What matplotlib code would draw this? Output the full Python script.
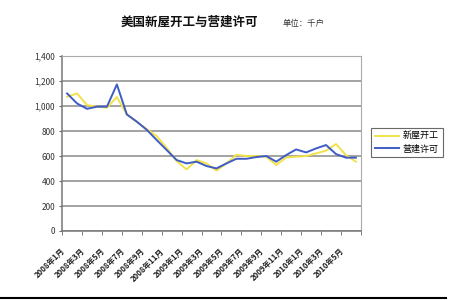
import matplotlib
matplotlib.use('Agg')
import matplotlib.pyplot as plt
import matplotlib.transforms as mtransforms
from matplotlib.lines import Line2D
import numpy as np

plt.rcParams['font.family'] = ['Noto Sans CJK SC', 'DejaVu Sans']

months = ['2008年1月', '2008年2月', '2008年3月', '2008年4月', '2008年5月', '2008年6月',
          '2008年7月', '2008年8月', '2008年9月', '2008年10月', '2008年11月', '2008年12月',
          '2009年1月', '2009年2月', '2009年3月', '2009年4月', '2009年5月', '2009年6月',
          '2009年7月', '2009年8月', '2009年9月', '2009年10月', '2009年11月', '2009年12月',
          '2010年1月', '2010年2月', '2010年3月', '2010年4月', '2010年5月', '2010年6月']

# 新屋开工 (housing starts), thousand units
starts = [1075, 1101, 1008, 995, 987, 1072, 933, 875, 815, 760, 665, 560,
          493, 568, 541, 483, 541, 610, 600, 600, 595, 528, 589, 595,
          600, 621, 643, 696, 608, 555]
# 营建许可 (building permits)
permits = [1101, 1021, 978, 995, 995, 1173, 933, 875, 810, 728, 648, 568,
           541, 555, 520, 501, 541, 578, 578, 592, 600, 555, 608, 653,
           629, 661, 688, 616, 587, 587]

x = np.arange(len(months))

fig = plt.figure(figsize=(4.5, 3.0), dpi=100)
ax = fig.add_axes([0.138, 0.23, 0.664, 0.583])

ax.plot(x, starts, color='#f2e24a', lw=1.4, label='新屋开工')
ax.plot(x, permits, color='#3f5cc4', lw=1.4, label='营建许可')

ax.set_xlim(-0.5, len(months) - 0.5)
ax.set_ylim(0, 1400)
ax.set_yticks(np.arange(0, 1401, 200))
ax.set_yticklabels(['{:,}'.format(v) for v in range(0, 1401, 200)],
                   fontsize=6, color='#333333')
ax.yaxis.grid(True, color='#8a8a8a', lw=1.1)
ax.set_axisbelow(True)

ax.set_xticks(x[::2])
ax.set_xticklabels(months[::2], rotation=45, ha='right', va='top',
                   fontsize=5.6, fontweight='bold', color='#222222',
                   rotation_mode='anchor')
ax.tick_params(axis='x', which='major', length=0, pad=11)
shift = mtransforms.ScaledTranslation(-5 / 72, 0, fig.dpi_scale_trans)
for lab in ax.get_xticklabels():
    lab.set_transform(lab.get_transform() + shift)
ax.set_xticks(np.arange(-0.5, len(months), 2), minor=True)
ax.tick_params(axis='x', which='minor', length=3, color='#666666', direction='out')
ax.tick_params(axis='y', length=2, color='#666666', pad=3)

for s in ['top', 'right']:
    ax.spines[s].set_color('#aaaaaa')
for s in ['left', 'bottom']:
    ax.spines[s].set_color('#777777')
    ax.spines[s].set_linewidth(1.1)

leg = ax.legend(loc='upper left', bbox_to_anchor=(1.02, 0.615), fontsize=6.5,
                frameon=True, fancybox=False, handlelength=2.6,
                borderpad=0.45, labelspacing=0.35, handletextpad=0.4)
leg.get_frame().set_edgecolor('#444444')
leg.get_frame().set_linewidth(0.8)

fig.text(0.42, 0.925, '美国新屋开工与营建许可', ha='center', va='center',
         fontsize=9, fontweight='bold', color='#111111')
fig.text(0.675, 0.922, '单位：千户', ha='center', va='center',
         fontsize=6, color='#333333')

fig.add_artist(Line2D([0.0, 0.99], [0.007, 0.007], color='black', lw=1.5))

fig.savefig('out.png', dpi=100)
